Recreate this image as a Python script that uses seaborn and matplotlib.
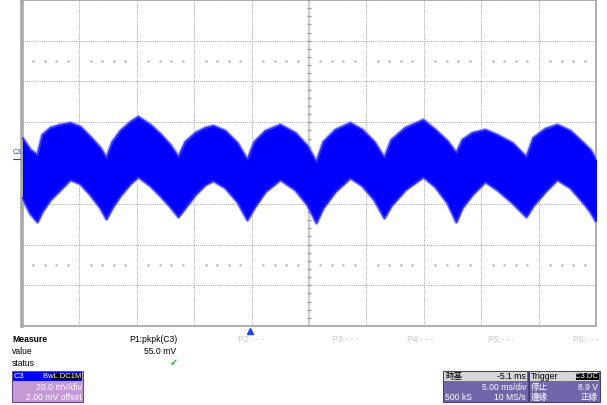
import numpy as np
import matplotlib
matplotlib.use("Agg")
import matplotlib.pyplot as plt
import matplotlib.transforms as mtransforms
from matplotlib.patches import Rectangle
import seaborn as sns

# C3 trace (peak-detect envelope)
# time in ms relative to the trigger, voltage in mV
t_ms = [-19.86, -19.16, -18.55, -18.12, -17.42, -16.55, -15.68, -14.81, -13.94, -13.07,
        -12.54, -12.02, -11.32, -10.45, -9.76, -8.71, -7.84, -6.97, -6.27, -5.66,
        -4.79, -3.92, -3.22, -2.18, -1.13, -0.26, 0.35, 1.31, 2.61, 3.92,
        4.97, 5.75, 6.36, 7.40, 8.71, 9.76, 10.80, 11.67, 12.28, 13.50,
        15.07, 16.12, 17.16, 17.94, 18.47, 19.34, 20.47, 21.52, 22.82, 24.04,
        24.65, 25.70, 26.74, 27.88, 29.01, 29.62, 30.14]
upper_mv = [10.3, 4.4, 1.9, 11.7, 15.2, 16.7, 17.6, 15.7, 10.8, 5.4,
            0.5, 8.3, 13.7, 18.1, 20.6, 16.7, 12.2, 6.8, 0.9, 8.3,
            12.7, 15.2, 16.2, 13.7, 7.8, -0.5, 8.3, 13.7, 16.7, 12.7,
            6.3, -1.5, 8.3, 14.2, 17.6, 14.2, 8.3, 0.5, 9.3, 15.2,
            19.1, 14.2, 8.8, 2.9, 9.3, 12.7, 14.2, 11.7, 7.8, 0.9,
            10.3, 14.7, 16.7, 13.7, 7.8, 4.4, -0.5]
lower_mv = [-19.2, -27.0, -31.0, -26.0, -20.2, -15.3, -10.3, -12.3, -17.7, -24.1,
            -29.5, -24.1, -18.2, -12.3, -8.9, -13.3, -18.2, -23.6, -28.5, -24.1,
            -17.7, -12.8, -10.8, -14.3, -21.1, -30.0, -24.1, -16.2, -10.3, -15.3,
            -22.6, -31.4, -24.1, -16.2, -9.4, -13.3, -20.2, -29.0, -23.1, -15.3,
            -8.9, -13.8, -21.6, -31.0, -24.1, -17.7, -11.3, -15.3, -21.6, -28.5,
            -23.1, -16.2, -10.3, -14.3, -21.6, -26.0, -31.0]

mv_per_div = 20.0
ms_per_div = 5.0
offset_mv = 2.0
delay_ms = -5.1

measure_rows = ["Measure", "value", "status"]
p1_label, p1_value = "P1:pkpk(C3)", "55.0 mV"
other_params = ["P2:- - -", "P3:- - -", "P4:- - -", "P5:- - -", "P6:- - -"]

W, H = 607, 405
sns.set_style("white")
plt.rcParams["font.family"] = ["Liberation Sans", "Noto Sans CJK TC", "DejaVu Sans"]

fig = plt.figure(figsize=(W / 100, H / 100), dpi=100)
ax = fig.add_axes([22 / W, 79 / H, 574 / W, 326 / H])

tc = -delay_ms
vc = -offset_mv
ax.set_xlim(tc - 5 * ms_per_div, tc + 5 * ms_per_div)
ax.set_ylim(vc - 4 * mv_per_div, vc + 4 * mv_per_div)

# graticule
ax.set_xticks([tc + k * ms_per_div for k in range(-5, 6)])
ax.set_yticks([vc + k * mv_per_div for k in range(-4, 5)])
ax.grid(True, color="#a4a4a4", linestyle=(0, (1, 1.2)), lw=0.7)
ax.tick_params(length=0, labelbottom=False, labelleft=False)
ax.axvline(tc, color="#cfcfcf", lw=1.6, zorder=1)
ax.axhline(vc, color="#cfcfcf", lw=1.6, zorder=1)
sub = np.arange(-25, 26) * ms_per_div / 5
ax.plot(tc + sub, np.full(sub.size, vc), ls="none", marker="|", ms=3, mew=0.9, color="#a0a0a0", zorder=1)
vsub = np.arange(-20, 21) * mv_per_div / 5
ax.plot(np.full(vsub.size, tc), vc + vsub, ls="none", marker="_", ms=3, mew=0.9, color="#a0a0a0", zorder=1)
dots = np.array([k for k in range(-24, 25) if k % 5 != 0]) * ms_per_div / 5 + tc
for yy in (vc + 2.5 * mv_per_div, vc - 2.5 * mv_per_div):
    ax.plot(dots, np.full(dots.size, yy), ls="none", marker="s", ms=0.7, color="#b0b0b0", zorder=1)

for side, s in ax.spines.items():
    s.set_visible(True)
    s.set_color("#a8a8a8")
    s.set_linewidth(1.3)
ax.spines["left"].set_linewidth(2.6)

# trace
ax.fill_between(t_ms, lower_mv, upper_mv, color="#0000ff", lw=0, zorder=3)
for edge in (upper_mv, lower_mv):
    sns.lineplot(x=t_ms, y=edge, color="#6a6aff", lw=3.0, alpha=0.55, ax=ax, zorder=2)
    sns.lineplot(x=t_ms, y=edge, color="#2a2aff", lw=1.2, ax=ax, zorder=3)

# trigger marker
trans = mtransforms.blended_transform_factory(ax.transData, ax.transAxes)
ax.plot([0], [-0.014], marker="^", ms=4.5, color="#2040ff", transform=trans, clip_on=False)


def fx(x):
    return x / W


def fy(y):
    return 1 - y / H


def box(x0, y0, x1, y1, color, ec="none", lw=0):
    fig.patches.append(Rectangle((fx(x0), fy(y1)), fx(x1) - fx(x0), fy(y0) - fy(y1),
                                 transform=fig.transFigure, facecolor=color,
                                 edgecolor=ec, lw=lw))


def txt(x, y, s, ha="left", color="black", weight="normal", size=6.2):
    fig.text(fx(x), fy(y), s, ha=ha, va="center", color=color,
             fontsize=size, fontweight=weight)


# channel level marker
txt(13, 153, "C3", color="#2040ff", size=5)
fig.add_artist(plt.Line2D([fx(13), fx(20)], [fy(159), fy(159)], color="#2040ff", lw=0.8))

# measurement table
txt(12, 340, measure_rows[0], weight="bold")
txt(12, 351, measure_rows[1])
txt(12, 363, measure_rows[2])
txt(177, 340, p1_label, ha="right")
txt(176, 351, p1_value, ha="right")
txt(174, 363, "\u2714", ha="center", color="#30c030", size=7)
for lab, xp in zip(other_params, [238, 332, 407, 488, 573]):
    txt(xp, 340, lab, color="#c8c8c8")

# C3 channel box
box(12, 371, 83, 402, "#c49ad6", ec="#6a4a86", lw=0.8)
box(13, 372, 82, 381, "#0000ff")
box(51, 373, 82, 380, "#000000")
txt(14, 376.5, "C3", color="white", size=6)
txt(81, 376.5, "BwL DC1M", ha="right", color="white", size=5.5)
txt(82, 387, "20.0 mV/div", ha="right", color="white")
txt(82, 397, "2.00 mV offset", ha="right", color="white")

# timebase box
box(443, 371, 528, 402, "#7266aa", ec="#4a3f7a", lw=0.8)
box(444, 372, 527, 381, "#d6d6d6")
txt(445, 376.5, "時基")
txt(526, 376.5, "-5.1 ms", ha="right")
txt(526, 387, "5.00 ms/div", ha="right", color="white")
txt(445, 397, "500 kS", color="white")
txt(526, 397, "10 MS/s", ha="right", color="white")

# trigger box
box(529, 371, 600, 402, "#7266aa", ec="#4a3f7a", lw=0.8)
box(530, 372, 599, 381, "#d6d6d6")
box(576, 373, 599, 380, "#000000")
txt(531, 376.5, "Trigger")
txt(598, 376.5, "C3 DC", ha="right", color="white", size=5.5)
txt(531, 387, "停止", color="white")
txt(598, 387, "8.9 V", ha="right", color="white")
txt(531, 397, "邊緣", color="white")
txt(598, 397, "正緣", ha="right", color="white")

fig.savefig("out.png", dpi=100)
